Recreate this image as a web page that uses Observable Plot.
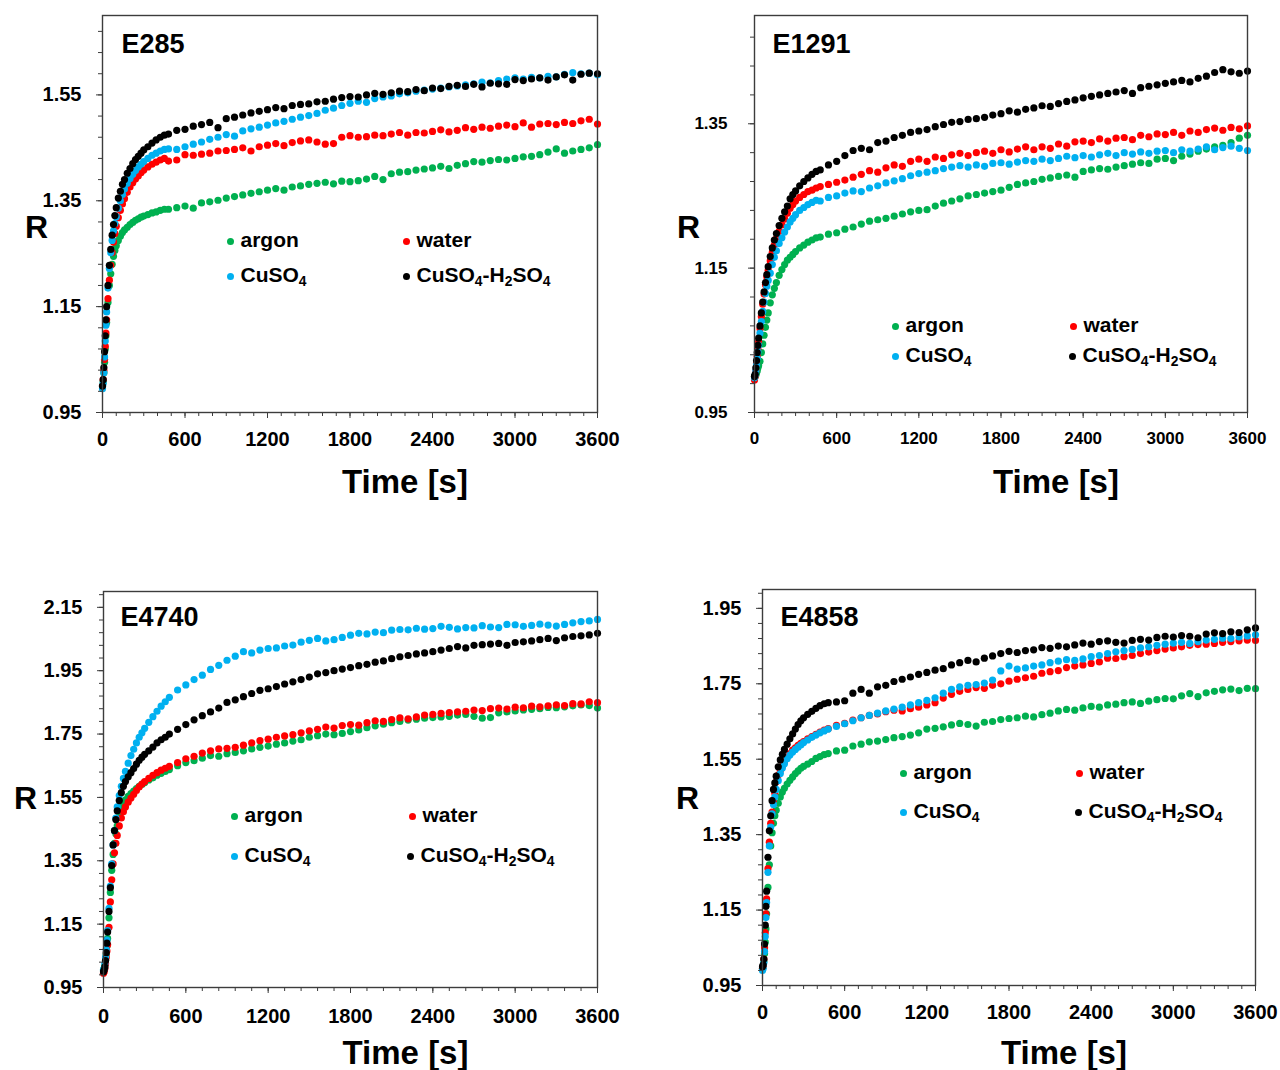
<!DOCTYPE html>
<html><head><meta charset="utf-8">
<script src="https://cdn.jsdelivr.net/npm/d3@7"></script>
<script src="https://cdn.jsdelivr.net/npm/@observablehq/plot@0.6"></script>
<style>
body{margin:0;background:#fff;font-family:"Liberation Sans",Arial,sans-serif;}
#wrap{position:relative;width:1280px;height:1070px;overflow:hidden;background:#fff;}
.panel{position:absolute;}
.lg{position:absolute;display:flex;align-items:center;height:26px;font-weight:bold;font-size:21px;line-height:26px;color:#000;white-space:nowrap;}
.lg .d{display:inline-block;width:7px;height:7px;border-radius:50%;margin-right:7px;margin-top:2px;}
.lg sub{font-size:0.66em;vertical-align:-0.28em;line-height:0;}
</style></head>
<body><div id="wrap"></div>
<script>
// ---------- data ----------
const time = [0,5,10,15,20,25,30,40,50,60,70,80,90,100,115,130,145,160,180,200,220,240,260,280,300,330,360,390,420,450,
480,540,600,660,720,780,840,900,960,1020,1080,1140,1200,1260,1320,1380,1440,1500,1560,1620,1680,1740,1800,1860,1920,1980,2040,2100,2160,2220,2280,2340,2400,2460,2520,2580,2640,2700,2760,2820,2880,2940,3000,3060,3120,3180,3240,3300,3360,3420,3480,3540,3600];

const seriesNames = ["argon","water","CuSO4","CuSO4-H2SO4"];
const seriesColors = ["#00B050","#FF0000","#00B0F0","#000000"];

const xTicks = [0,600,1200,1800,2400,3000,3600];

// E285
const e285_argon = [1.000,1.008,1.025,1.045,1.070,1.095,1.120,1.158,1.190,1.212,1.230,1.245,1.256,1.265,1.275,1.283,1.290,1.295,1.300,1.305,1.309,1.313,1.316,1.319,1.321,1.324,1.327,1.329,1.332,1.334,
1.334,1.337,1.340,1.336,1.346,1.348,1.351,1.355,1.358,1.361,1.364,1.367,1.370,1.373,1.370,1.376,1.378,1.381,1.383,1.385,1.382,1.387,1.386,1.388,1.391,1.396,1.390,1.401,1.404,1.405,1.408,1.410,1.412,1.415,1.411,1.417,1.420,1.424,1.423,1.426,1.428,1.427,1.430,1.433,1.434,1.437,1.442,1.448,1.440,1.444,1.447,1.450,1.456];
const e285_water = [1.000,1.012,1.030,1.050,1.075,1.100,1.125,1.165,1.200,1.228,1.252,1.272,1.288,1.302,1.318,1.332,1.344,1.354,1.366,1.376,1.384,1.391,1.397,1.403,1.408,1.414,1.419,1.423,1.427,1.430,
1.425,1.427,1.437,1.436,1.438,1.440,1.444,1.445,1.447,1.450,1.444,1.452,1.455,1.458,1.454,1.460,1.463,1.465,1.461,1.457,1.458,1.470,1.473,1.470,1.471,1.474,1.473,1.476,1.479,1.474,1.479,1.478,1.481,1.484,1.480,1.483,1.488,1.485,1.489,1.487,1.491,1.493,1.490,1.497,1.489,1.495,1.496,1.494,1.498,1.496,1.501,1.504,1.495];
const e285_CuSO4 = [0.995,1.005,1.025,1.055,1.085,1.115,1.140,1.185,1.222,1.252,1.275,1.293,1.307,1.320,1.336,1.350,1.362,1.372,1.383,1.392,1.400,1.407,1.414,1.419,1.424,1.430,1.436,1.440,1.444,1.447,
1.448,1.447,1.452,1.457,1.461,1.466,1.470,1.475,1.472,1.482,1.486,1.489,1.493,1.497,1.500,1.504,1.508,1.511,1.515,1.521,1.525,1.530,1.534,1.538,1.536,1.543,1.546,1.548,1.552,1.554,1.557,1.559,1.561,1.563,1.565,1.567,1.569,1.571,1.574,1.573,1.577,1.580,1.582,1.580,1.583,1.582,1.585,1.584,1.589,1.592,1.590,1.591,1.588];
const e285_CuSO4H2SO4 = [1.000,1.012,1.035,1.065,1.095,1.125,1.150,1.190,1.228,1.258,1.285,1.305,1.322,1.337,1.355,1.368,1.381,1.390,1.402,1.411,1.420,1.428,1.434,1.440,1.446,1.452,1.459,1.465,1.470,1.474,
1.476,1.483,1.485,1.491,1.494,1.498,1.488,1.505,1.508,1.512,1.516,1.519,1.522,1.526,1.524,1.530,1.532,1.533,1.537,1.538,1.542,1.545,1.547,1.546,1.550,1.553,1.551,1.554,1.557,1.556,1.560,1.558,1.563,1.562,1.566,1.568,1.566,1.570,1.565,1.572,1.571,1.570,1.579,1.577,1.580,1.582,1.578,1.584,1.588,1.578,1.589,1.591,1.590];

// E1291
const e1291_argon = [1.000,1.000,1.002,1.005,1.008,1.012,1.015,1.021,1.033,1.045,1.057,1.068,1.078,1.088,1.102,1.113,1.122,1.130,1.140,1.148,1.155,1.161,1.165,1.169,1.173,1.178,1.182,1.186,1.189,1.192,
1.193,1.197,1.199,1.204,1.207,1.211,1.215,1.217,1.219,1.222,1.225,1.228,1.230,1.231,1.236,1.240,1.243,1.246,1.250,1.252,1.254,1.256,1.258,1.262,1.266,1.268,1.270,1.273,1.275,1.277,1.279,1.276,1.284,1.286,1.288,1.287,1.290,1.292,1.294,1.296,1.295,1.301,1.302,1.299,1.305,1.308,1.312,1.315,1.318,1.320,1.324,1.330,1.334];
const e1291_water = [0.995,1.000,1.008,1.018,1.028,1.038,1.048,1.066,1.083,1.100,1.114,1.127,1.138,1.147,1.160,1.172,1.182,1.191,1.201,1.210,1.218,1.226,1.233,1.238,1.243,1.248,1.252,1.256,1.258,1.261,
1.263,1.266,1.269,1.272,1.276,1.280,1.285,1.283,1.289,1.293,1.291,1.298,1.301,1.298,1.304,1.302,1.307,1.309,1.306,1.310,1.312,1.309,1.314,1.311,1.315,1.318,1.314,1.318,1.316,1.322,1.319,1.325,1.326,1.324,1.329,1.326,1.330,1.331,1.328,1.334,1.332,1.336,1.335,1.338,1.334,1.340,1.338,1.342,1.344,1.341,1.345,1.343,1.347];
const e1291_CuSO4 = [0.998,1.002,1.008,1.016,1.025,1.034,1.043,1.060,1.076,1.090,1.103,1.115,1.125,1.133,1.143,1.155,1.165,1.174,1.184,1.192,1.200,1.207,1.214,1.219,1.224,1.230,1.234,1.238,1.241,1.244,
1.243,1.248,1.250,1.254,1.257,1.256,1.261,1.264,1.268,1.271,1.274,1.278,1.281,1.283,1.285,1.288,1.290,1.292,1.290,1.293,1.291,1.295,1.296,1.294,1.297,1.299,1.298,1.301,1.299,1.302,1.305,1.303,1.306,1.304,1.307,1.309,1.306,1.310,1.308,1.311,1.309,1.312,1.313,1.310,1.314,1.312,1.315,1.318,1.314,1.317,1.319,1.316,1.313];
const e1291_CuSO4H2SO4 = [1.000,1.003,1.012,1.022,1.033,1.043,1.053,1.070,1.088,1.103,1.117,1.130,1.141,1.152,1.166,1.178,1.189,1.198,1.209,1.219,1.228,1.236,1.246,1.252,1.257,1.264,1.270,1.275,1.280,1.284,
1.286,1.293,1.298,1.306,1.313,1.316,1.314,1.324,1.326,1.331,1.334,1.338,1.340,1.342,1.346,1.349,1.352,1.353,1.356,1.357,1.359,1.362,1.364,1.368,1.366,1.370,1.372,1.375,1.374,1.378,1.381,1.383,1.386,1.388,1.390,1.392,1.394,1.396,1.392,1.400,1.402,1.404,1.406,1.408,1.410,1.408,1.413,1.416,1.421,1.425,1.422,1.420,1.423];

// E4740
const e4740_argon = [1.005,1.010,1.020,1.035,1.055,1.080,1.105,1.170,1.250,1.320,1.370,1.405,1.435,1.460,1.490,1.515,1.530,1.542,1.553,1.562,1.570,1.578,1.585,1.591,1.597,1.605,1.612,1.620,1.626,1.632,
1.638,1.650,1.660,1.666,1.674,1.682,1.680,1.688,1.692,1.697,1.703,1.708,1.712,1.718,1.722,1.728,1.732,1.740,1.745,1.750,1.748,1.752,1.758,1.763,1.770,1.776,1.781,1.786,1.790,1.794,1.797,1.800,1.802,1.804,1.806,1.810,1.812,1.806,1.800,1.802,1.817,1.820,1.823,1.826,1.828,1.830,1.834,1.833,1.836,1.839,1.842,1.840,1.832];
const e4740_water = [0.995,1.000,1.010,1.025,1.045,1.065,1.085,1.140,1.220,1.290,1.340,1.375,1.405,1.430,1.460,1.485,1.505,1.520,1.535,1.548,1.560,1.572,1.583,1.592,1.600,1.610,1.620,1.628,1.636,1.642,
1.648,1.660,1.672,1.680,1.690,1.697,1.703,1.705,1.708,1.715,1.722,1.729,1.734,1.740,1.744,1.748,1.754,1.760,1.765,1.772,1.769,1.777,1.780,1.778,1.786,1.792,1.790,1.796,1.801,1.798,1.804,1.810,1.812,1.815,1.818,1.820,1.822,1.826,1.824,1.830,1.832,1.829,1.835,1.833,1.838,1.836,1.839,1.842,1.840,1.846,1.845,1.852,1.849];
const e4740_CuSO4 = [1.005,1.010,1.025,1.045,1.070,1.100,1.130,1.200,1.270,1.340,1.400,1.445,1.485,1.520,1.556,1.585,1.610,1.632,1.658,1.682,1.702,1.722,1.740,1.754,1.768,1.787,1.805,1.822,1.838,1.852,
1.866,1.889,1.905,1.922,1.936,1.954,1.967,1.983,1.996,2.010,2.006,2.015,2.020,2.022,2.028,2.031,2.040,2.046,2.052,2.044,2.048,2.055,2.062,2.068,2.066,2.072,2.070,2.078,2.080,2.079,2.084,2.081,2.083,2.090,2.087,2.082,2.086,2.085,2.092,2.088,2.086,2.096,2.095,2.090,2.093,2.097,2.094,2.091,2.096,2.101,2.105,2.107,2.112];
const e4740_CuSO4H2SO4 = [1.000,1.005,1.015,1.035,1.060,1.090,1.125,1.190,1.265,1.335,1.400,1.445,1.480,1.508,1.540,1.565,1.585,1.600,1.615,1.628,1.641,1.655,1.667,1.677,1.686,1.697,1.709,1.722,1.732,1.740,
1.750,1.765,1.780,1.795,1.808,1.820,1.832,1.850,1.858,1.868,1.878,1.888,1.893,1.900,1.908,1.915,1.922,1.930,1.940,1.944,1.950,1.955,1.960,1.966,1.970,1.977,1.981,1.988,1.994,1.998,2.003,2.006,2.010,2.015,2.020,2.026,2.022,2.030,2.032,2.034,2.036,2.030,2.039,2.041,2.044,2.048,2.052,2.045,2.054,2.058,2.060,2.063,2.068];

// E4858
const e4858_argon = [0.995,1.000,1.015,1.035,1.065,1.100,1.140,1.210,1.270,1.320,1.355,1.380,1.400,1.415,1.433,1.450,1.463,1.473,1.484,1.494,1.503,1.512,1.519,1.526,1.531,1.537,1.544,1.552,1.557,1.562,
1.565,1.572,1.574,1.585,1.590,1.596,1.598,1.602,1.607,1.610,1.614,1.620,1.630,1.632,1.636,1.641,1.645,1.642,1.638,1.648,1.650,1.655,1.658,1.660,1.664,1.662,1.668,1.672,1.678,1.682,1.680,1.686,1.690,1.688,1.694,1.696,1.700,1.702,1.698,1.704,1.708,1.711,1.710,1.718,1.724,1.716,1.726,1.730,1.734,1.736,1.732,1.738,1.737];
const e4858_water = [0.995,1.000,1.020,1.050,1.090,1.140,1.180,1.260,1.330,1.380,1.410,1.440,1.460,1.490,1.508,1.520,1.532,1.543,1.556,1.565,1.574,1.580,1.587,1.592,1.597,1.604,1.610,1.616,1.622,1.627,
1.631,1.640,1.645,1.654,1.660,1.666,1.670,1.676,1.680,1.678,1.684,1.688,1.694,1.700,1.712,1.722,1.730,1.735,1.740,1.738,1.746,1.750,1.757,1.762,1.766,1.770,1.778,1.782,1.785,1.793,1.797,1.800,1.804,1.808,1.818,1.817,1.822,1.825,1.830,1.834,1.838,1.842,1.845,1.848,1.852,1.854,1.855,1.857,1.860,1.862,1.864,1.866,1.865];
const e4858_CuSO4 = [0.990,0.995,1.010,1.040,1.080,1.130,1.170,1.250,1.320,1.370,1.405,1.430,1.450,1.470,1.493,1.512,1.527,1.538,1.551,1.561,1.569,1.576,1.582,1.588,1.594,1.601,1.608,1.614,1.620,1.625,
1.630,1.637,1.644,1.652,1.660,1.666,1.672,1.678,1.683,1.688,1.694,1.700,1.706,1.713,1.725,1.735,1.742,1.746,1.748,1.752,1.760,1.784,1.797,1.789,1.792,1.797,1.800,1.806,1.810,1.814,1.812,1.816,1.822,1.825,1.830,1.835,1.838,1.841,1.845,1.848,1.852,1.855,1.858,1.860,1.857,1.862,1.866,1.868,1.871,1.870,1.874,1.877,1.880];
const e4858_CuSO4H2SO4 = [1.000,1.005,1.020,1.060,1.110,1.160,1.200,1.290,1.360,1.400,1.440,1.470,1.487,1.505,1.530,1.548,1.563,1.576,1.590,1.604,1.617,1.630,1.642,1.652,1.660,1.669,1.677,1.685,1.692,1.697,
1.700,1.702,1.705,1.725,1.735,1.725,1.742,1.746,1.756,1.762,1.768,1.775,1.780,1.786,1.790,1.800,1.806,1.812,1.808,1.818,1.824,1.830,1.836,1.833,1.838,1.840,1.846,1.844,1.850,1.848,1.853,1.858,1.855,1.862,1.864,1.860,1.858,1.865,1.868,1.866,1.873,1.876,1.874,1.878,1.876,1.872,1.882,1.885,1.883,1.888,1.886,1.893,1.898];

// ---------- layout ----------
const panels = [
  {name:"E285", series:[e285_argon,e285_water,e285_CuSO4,e285_CuSO4H2SO4],
   yDomain:[0.95,1.70], yTicks:[0.95,1.15,1.35,1.55], xMinorStep:100,
   left:0, top:0, mL:102, mR:43, mT:15, mB:98, fs:20, xPad:13, yPad:15,
   nameDx:19, nameDy:29, rDx:-66, rDy:14, tDy:70,
   legend:[[230,240],[406,240],[230,275],[406,275]]},
  {name:"E1291", series:[e1291_argon,e1291_water,e1291_CuSO4,e1291_CuSO4H2SO4],
   yDomain:[0.95,1.50], yTicks:[0.95,1.15,1.35], xMinorStep:100,
   left:640, top:0, mL:114, mR:33, mT:15, mB:98, fs:17, xPad:13, yPad:21,
   nameDx:18, nameDy:29, rDx:-66, rDy:14, tDy:70,
   legend:[[895,325],[1073,325],[895,355],[1072,355]]},
  {name:"E4740", series:[e4740_argon,e4740_water,e4740_CuSO4,e4740_CuSO4H2SO4],
   yDomain:[0.95,2.20], yTicks:[0.95,1.15,1.35,1.55,1.75,1.95,2.15], xMinorStep:120,
   left:0, top:560, mL:103, mR:43, mT:31, mB:83, fs:20, xPad:15, yPad:15,
   nameDx:17, nameDy:26, rDx:-78, rDy:9, tDy:66,
   legend:[[234,815],[412,815],[234,855],[410,855]]},
  {name:"E4858", series:[e4858_argon,e4858_water,e4858_CuSO4,e4858_CuSO4H2SO4],
   yDomain:[0.95,2.00], yTicks:[0.95,1.15,1.35,1.55,1.75,1.95], xMinorStep:100,
   left:640, top:560, mL:122, mR:25, mT:29, mB:85, fs:20, xPad:13, yPad:15,
   nameDx:18, nameDy:28, rDx:-75, rDy:11, tDy:68,
   legend:[[903,772],[1079,772],[903,811],[1078,811]]}
];

const wrap = document.getElementById("wrap");
const axisColor = "#3c3c3c";

for (const p of panels) {
  const data = p.series.flatMap((arr, k) => arr.map((v, i) => ({t: time[i], R: v, s: seriesNames[k]})));
  const xMinor = d3.range(0, 3600 + 1, p.xMinorStep);
  const yMinor = d3.range(0, Math.round((p.yDomain[1] - 0.95) / 0.04) + 1).map(i => +(0.95 + i * 0.04).toFixed(2)).filter(v => v <= p.yDomain[1]);
  const chart = Plot.plot({
    width: 640, height: 510,
    marginLeft: p.mL, marginRight: p.mR, marginTop: p.mT, marginBottom: p.mB,
    style: {fontFamily: "Liberation Sans, Arial, sans-serif", background: "transparent", overflow: "visible"},
    x: {domain: [0, 3600]},
    y: {domain: p.yDomain},
    color: {domain: seriesNames, range: seriesColors},
    marks: [
      Plot.dot(data, {x: "t", y: "R", fill: "s", r: 3.6}),
      Plot.frame({stroke: axisColor, strokeWidth: 1.4}),
      Plot.axisX(xMinor, {tickSize: 4, tickFormat: () => "", stroke: axisColor, label: null}),
      Plot.axisX(xTicks, {tickSize: 6, tickPadding: p.xPad, tickFormat: d => String(d), fontSize: p.fs, fontWeight: "bold", stroke: axisColor, fill: "#000", label: null}),
      Plot.axisY(yMinor, {tickSize: 4, tickFormat: () => "", stroke: axisColor, label: null}),
      Plot.axisY(p.yTicks, {tickSize: 6, tickPadding: p.yPad, tickFormat: d => d.toFixed(2), fontSize: p.fs, fontWeight: "bold", stroke: axisColor, fill: "#000", label: null}),
      Plot.text([p.name], {text: d => d, frameAnchor: "top-left", dx: p.nameDx, dy: p.nameDy, textAnchor: "start", lineAnchor: "middle", fontSize: 27, fontWeight: "bold", fill: "#000"}),
      Plot.text(["R"], {text: d => d, frameAnchor: "left", dx: p.rDx, dy: p.rDy, textAnchor: "middle", lineAnchor: "middle", fontSize: 32, fontWeight: "bold", fill: "#000"}),
      Plot.text(["Time [s]"], {text: d => d, frameAnchor: "bottom", dx: 55, dy: p.tDy, textAnchor: "middle", lineAnchor: "middle", fontSize: 33, fontWeight: "bold", fill: "#000"})
    ]
  });
  const holder = document.createElement("div");
  holder.className = "panel";
  holder.style.left = p.left + "px";
  holder.style.top = p.top + "px";
  holder.appendChild(chart);
  wrap.appendChild(holder);

  seriesNames.forEach((s, k) => {
    const [cx, cy] = p.legend[k];
    const item = document.createElement("div");
    item.className = "lg";
    item.style.left = (cx - 3.5) + "px";
    item.style.top = (cy - 13) + "px";
    item.innerHTML = `<span class="d" style="background:${seriesColors[k]}"></span><span>${s.replace(/(\d)/g, "<sub>$1</sub>")}</span>`;
    wrap.appendChild(item);
  });
}
</script>
</body></html>
